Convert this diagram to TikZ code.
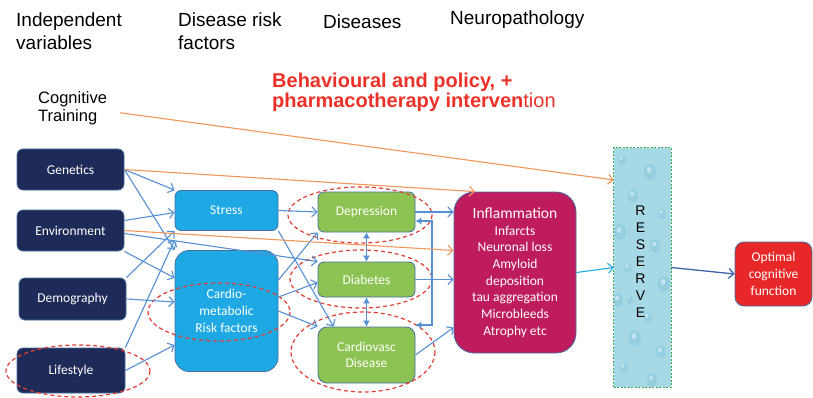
\documentclass[tikz,border=0pt]{standalone}
\usepackage{fontspec}
\setmainfont{Liberation Sans}
\newfontfamily\calibri{Carlito}
\usetikzlibrary{arrows.meta}

\definecolor{navy}{RGB}{30,42,88}
\definecolor{edge}{RGB}{70,110,160}
\definecolor{skyblue}{RGB}{30,168,228}
\definecolor{leaf}{RGB}{141,195,82}
\definecolor{crimson}{RGB}{190,28,92}
\definecolor{alarm}{RGB}{232,40,40}
\definecolor{arrblue}{RGB}{86,144,212}
\definecolor{orng}{RGB}{242,150,90}
\definecolor{ringred}{RGB}{228,62,52}
\definecolor{titlered}{RGB}{236,50,40}
\definecolor{water}{RGB}{166,216,230}
\definecolor{drop}{RGB}{120,190,212}
\definecolor{fence}{RGB}{60,170,80}

\begin{document}
\begin{tikzpicture}[x=1pt,y=-1pt,>={Straight Barb[length=5pt,width=10pt]},
  box/.style={rounded corners=6pt,draw=edge,line width=0.8pt,text=white,
    align=center,inner sep=0pt,font=\calibri\fontsize{13.5}{16.7}\selectfont},
  darkbox/.style={box,fill=navy,minimum width=107pt,minimum height=41pt},
  bluebox/.style={box,fill=skyblue,minimum width=103pt,minimum height=40pt},
  greenbox/.style={box,fill=leaf,minimum width=97pt},
  head/.style={anchor=base west,align=left,inner sep=0pt,
    font=\fontsize{19}{23}\selectfont},
  arr/.style={->,draw=arrblue,line width=1.1pt},
  oarr/.style={->,draw=orng,line width=1.1pt},
  tri/.style={-{Latex[length=6pt,width=7pt]},draw=arrblue,line width=1.1pt},
  dbl/.style={{Latex[length=6pt,width=7pt]}-{Latex[length=6pt,width=7pt]},
    draw=arrblue,line width=1.1pt},
  ring/.style={draw=ringred,dash pattern=on 4pt off 3pt,line width=1.2pt}]

\useasboundingbox (0,0) rectangle (813,398);

% ---------- column headings (base = last line) ----------
\node[head] (hindep) at (16,50) {Independent\\variables};
\node[head] (hrisk) at (178,50) {Disease risk\\factors};
\node[head] (hdis) at (323,29) {Diseases};
\node[head] (hneuro) at (450,25) {Neuropathology};

\node[head,font=\fontsize{16.5}{18}\selectfont] (cog) at (38,122) {Cognitive\\Training};
\node[head,text=titlered,font=\fontsize{20}{20.5}\selectfont\bfseries] (policy) at (272,108)
  {Behavioural and policy, +\\pharmacotherapy interven{\mdseries tion}};

% ---------- independent variables ----------
\node[darkbox] (gen) at (70.5,169.5) {Genetics};
\node[darkbox] (env) at (70.5,230.5) {Environment};
\node[darkbox,minimum height=42pt] (dem) at (72.5,299) {Demography};
\node[darkbox,minimum width=108pt,minimum height=45pt] (life) at (71,370.5) {Lifestyle};

% ---------- risk factors ----------
\node[bluebox] (stress) at (226.5,210.5) {Stress};
\node[bluebox,minimum height=121pt,rounded corners=14pt] (cardio) at (226.5,311)
  {Cardio-\\metabolic\\Risk factors};

% ---------- diseases ----------
\node[greenbox,minimum height=40pt] (dep) at (366.5,212) {Depression};
\node[greenbox,minimum height=35pt] (dia) at (366.5,279.5) {Diabetes};
\node[greenbox,minimum height=56pt,rounded corners=9pt] (cvd) at (366.5,355) {Cardiovasc\\Disease};

% ---------- neuropathology, reserve, outcome ----------
\node[box,fill=crimson,minimum width=122pt,minimum height=161pt,rounded corners=20pt]
  (neuro) at (515,272.5)
  {{\fontsize{15.5}{17}\selectfont Inflammation}\\Infarcts\\Neuronal loss\\Amyloid\\
   deposition\\tau aggregation\\Microbleeds\\Atrophy etc};

\node[fill=water,minimum width=57pt,minimum height=239pt,inner sep=0pt] (res) at (642.5,267.5) {};
\begin{scope}
  \clip (res.south west) rectangle (res.north east);
  \foreach \px/\py/\r in {622/160/4,650/172/6,633/196/5,662/214/4,620/232/6,
      655/246/5,628/268/4,664/284/6,618/300/5,648/318/4,635/338/6,661/352/5,
      624/368/4,652/380/5,640/225/3,630/300/3}
  {
    \fill[drop,opacity=.35] (\px,\py) ellipse [x radius=\r,y radius=1.3*\r];
    \fill[white,opacity=.45] (\px-1,\py-2) ellipse [x radius=.4*\r,y radius=.5*\r];
  }
\end{scope}
\draw[fence,dash pattern=on 2pt off 1.5pt,line width=0.9pt] (res.south west) rectangle (res.north east);
\node[align=center,inner sep=0pt,font=\fontsize{14}{17}\selectfont] (reslabel)
  at ([xshift=-2pt,yshift=6pt]res.center) {R\\E\\S\\E\\R\\V\\E};

\node[box,fill=alarm,minimum width=77pt,minimum height=64pt,rounded corners=9pt]
  (opt) at (773.5,274) {Optimal\\cognitive\\function};

% ---------- dashed rings ----------
\draw[ring] (78,371) ellipse [x radius=72,y radius=26];
\draw[ring] (219,312) ellipse [x radius=71,y radius=29];
\draw[ring] (360,215) ellipse [x radius=72,y radius=28];
\draw[ring] (361,279) ellipse [x radius=71,y radius=29];
\draw[ring] (363,352) ellipse [x radius=72,y radius=40];

% ---------- independent variables -> risk factors ----------
\draw[arr] (gen.east) -- (stress.north west);
\draw[arr] (gen.east) -- (cardio.north west);
\draw[arr] ([yshift=10pt]env.east) -- ([yshift=-2pt]stress.west);
\draw[arr] (env.south east) -- ([yshift=33pt]cardio.west);
\draw[arr] ([yshift=-3pt]env.east) -- (dia.north west);
\draw[arr] (dem.north east) -- (stress.south west);
\draw[arr] (dem.east) -- ([yshift=9pt]cardio.west);
\draw[arr] (life.north east) -- ([yshift=-9pt]stress.south west);
\draw[arr] (life.east) -- ([yshift=-34pt]cardio.west);

% ---------- risk factors -> diseases ----------
\draw[arr] (stress.east) -- (dep.west);
\draw[arr] (stress.south east) -- ([xshift=-33pt]cvd.north);
\draw[arr] ([yshift=31pt]cardio.east) -- (dep.south west);
\draw[arr] ([yshift=14pt]cardio.east) -- ([yshift=-3pt]dia.west);
\draw[arr] (cardio.east) -- (cvd.north west);

\draw[dbl] (dep.south) -- (dia.north);
\draw[dbl] (dia.south) -- (cvd.north);

% ---------- diseases -> neuropathology ----------
\draw[arr] (dep.east) -- (dep.east -| neuro.west);
\draw[arr] (dia.east) -- (dia.east -| neuro.west);
\draw[arr] (cvd.east) -- ([yshift=-55pt]neuro.west);
\coordinate (fb) at (432,279.5);
\draw[tri] (fb) |- ([yshift=-9pt]dep.east);
\draw[tri] (fb) |- ([yshift=30pt]cvd.east);

% ---------- orange links ----------
\draw[oarr] (gen.east) -- ([xshift=-40pt]neuro.north);
\draw[oarr] (env.east) -- ([yshift=22pt]neuro.west);
\draw[oarr] ([xshift=13pt,yshift=-4pt]cog.east) -- ([yshift=87.5pt]res.west);

% ---------- reserve and outcome ----------
\draw[->,draw=skyblue,line width=1.1pt] (neuro.east) -- (res.west);
\draw[->,draw=edge!90!blue,line width=1.3pt] (res.east) -- (opt.west);

\end{tikzpicture}
\end{document}
